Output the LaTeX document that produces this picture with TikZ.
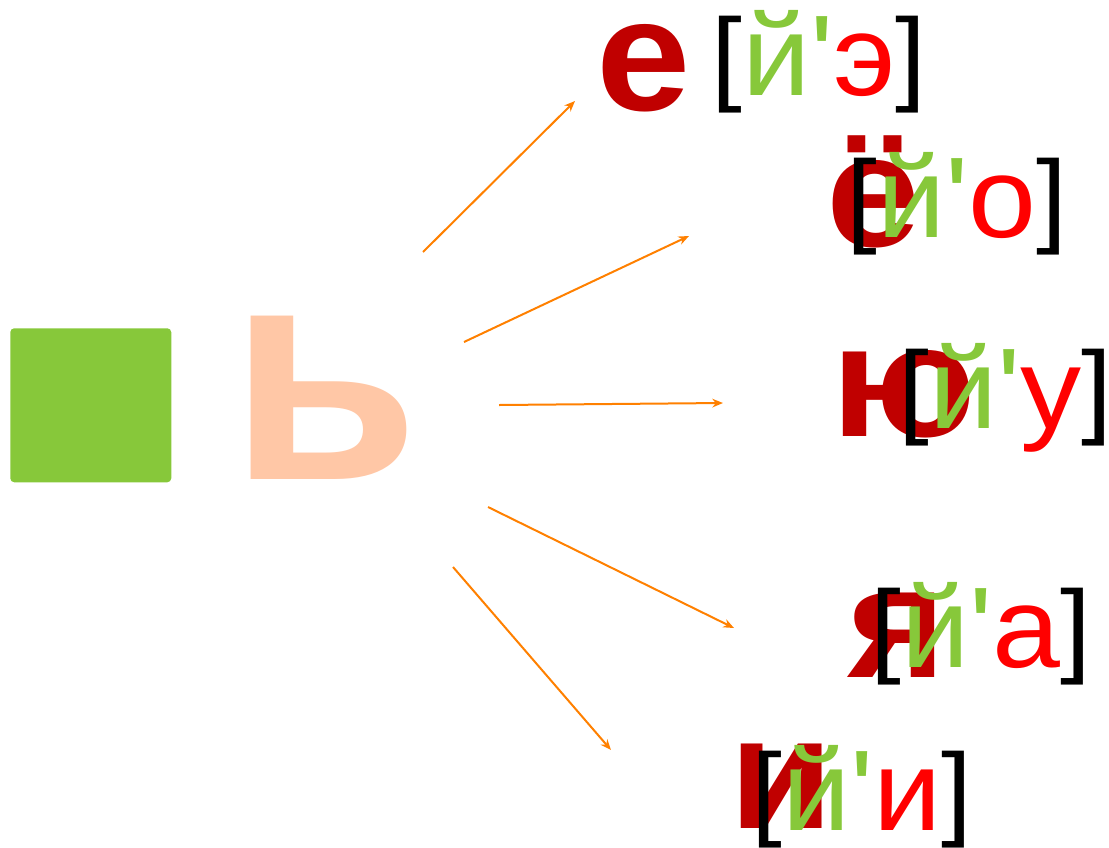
\documentclass[tikz,border=0pt]{standalone}
\usepackage{fontspec}
\setmainfont{Liberation Sans}
\newfontfamily\sndfont{Liberation Sans}[Ligatures=TeXOff,FakeStretch=1.065]
\newfontfamily\bigfont{Liberation Sans Bold}[FakeStretch=1.06]
\usetikzlibrary{arrows.meta}
\definecolor{leafgreen}{RGB}{135,200,58}
\definecolor{peach}{RGB}{255,199,166}
\definecolor{darkred}{RGB}{192,0,0}
\definecolor{brightred}{RGB}{255,0,0}
\definecolor{arroworange}{RGB}{255,128,0}
\tikzset{
  bigletter/.style={anchor=base west, inner sep=0pt, text=darkred, font=\bigfont\fontsize{120}{120}\selectfont},
  sound/.style={anchor=base west, inner sep=0pt, font=\sndfont\fontsize{86}{86}\selectfont},
  ray/.style={draw=arroworange, line width=1.5pt, -{Stealth[length=8pt,width=6.5pt]}}
}
\newcommand{\brk}[1]{\raisebox{3pt}{\fontsize{78}{78}\selectfont\textcolor{black}{#1}}}
\newcommand{\snd}[1]{\brk{[}\textcolor{leafgreen}{й'}\textcolor{brightred}{#1}\brk{]}}
\begin{document}
\begin{tikzpicture}[x=0.75pt,y=-0.75pt]
\useasboundingbox (0,0) rectangle (1109,847);
% green square
\node[fill=leafgreen, rounded corners=3pt, minimum width=120.75pt, minimum height=115.5pt, inner sep=0pt, anchor=north west] (sq) at (10,328) {};
% soft sign
\node[anchor=base west, inner sep=0pt, text=peach, font=\bfseries\fontsize{232}{232}\selectfont] (soft) at (229,479) {ь};
% big letters
\node[bigletter] (e) at (596,110) {е};
\node[bigletter] (yo) at (826,246) {ё};
\node[bigletter] (yu) at (831,436) {ю};
\node[bigletter] (ya) at (847,677) {я};
\node[bigletter] (i) at (729,828) {и};
% transcriptions
\node[sound] (se) at (711,95) {\snd{э}};
\node[sound] (syo) at (846,237) {\snd{о}};
\node[sound] (syu) at (898,428) {\snd{у}};
\node[sound] (sya) at (870,667) {\snd{а}};
\node[sound] (si) at (751,830) {\snd{и}};
% arrow ends
\coordinate (a1s) at (423,252); \coordinate (a1e) at (575,101);
\coordinate (a2s) at (464,342); \coordinate (a2e) at (689,236);
\coordinate (a3s) at (499,405); \coordinate (a3e) at (723,403);
\coordinate (a4s) at (488,507); \coordinate (a4e) at (734,628);
\coordinate (a5s) at (453,567); \coordinate (a5e) at (611,750);
\draw[ray] (a1s) -- (a1e);
\draw[ray] (a2s) -- (a2e);
\draw[ray] (a3s) -- (a3e);
\draw[ray] (a4s) -- (a4e);
\draw[ray] (a5s) -- (a5e);
\end{tikzpicture}
\end{document}
